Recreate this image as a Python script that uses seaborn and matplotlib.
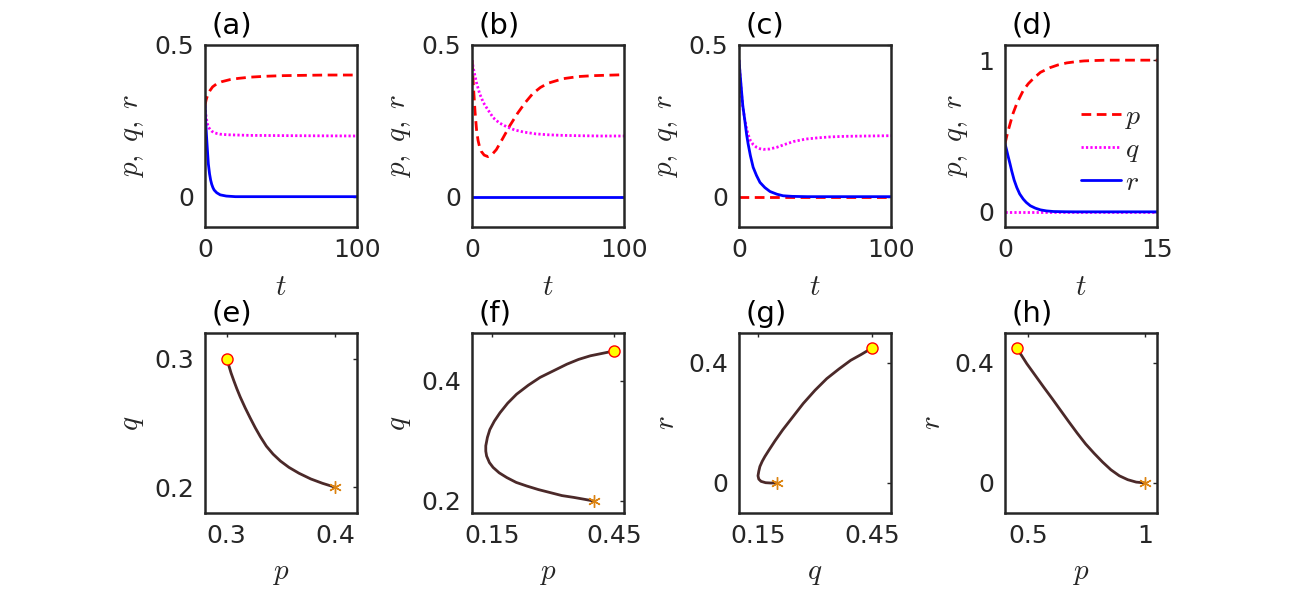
import numpy as np
import pandas as pd
import seaborn as sns
import matplotlib.pyplot as plt
from matplotlib.lines import Line2D

# ---- panel (a) : time series ----
t_a_p = [0, 0.3, 0.7, 1.1, 1.6, 2.2, 3.3, 5, 7.7, 11, 16.5, 22, 29.7, 40, 51.6, 65, 80, 100]
p_a = [0.3, 0.308, 0.318, 0.325, 0.332, 0.339, 0.35, 0.362, 0.372, 0.379, 0.386, 0.39, 0.394, 0.397,
       0.399, 0.4, 0.401, 0.401]
t_a_q = [0, 0.3, 0.7, 1.1, 1.6, 2.2, 3.3, 4.4, 6, 8, 9.9, 15, 30, 60, 100]
q_a = [0.3, 0.285, 0.265, 0.252, 0.24, 0.23, 0.222, 0.216, 0.211, 0.208, 0.206, 0.204, 0.202, 0.201, 0.2]
t_a_r = [0, 0.5, 1, 1.5, 2.2, 3, 3.7, 4.4, 5.2, 6, 7.7, 10, 14, 20, 100]
r_a = [0.3, 0.245, 0.2, 0.16, 0.108, 0.075, 0.055, 0.041, 0.03, 0.022, 0.013, 0.006, 0.002, 0, 0]

# ---- panel (b) ----
t_b_p = [0, 1, 2, 3, 4, 5, 6, 8, 10.5, 13, 16, 20, 25, 30, 35, 40, 45, 50, 60, 70, 80, 100]
p_b = [0.45, 0.36, 0.28, 0.22, 0.185, 0.164, 0.15, 0.137, 0.132, 0.138, 0.155, 0.19, 0.235, 0.275, 0.31,
       0.34, 0.36, 0.374, 0.389, 0.396, 0.399, 0.402]
t_b_q = [0, 1, 3, 5, 7.5, 10, 14, 18, 23, 28, 34, 42, 50, 60, 70, 85, 100]
q_b = [0.45, 0.42, 0.375, 0.34, 0.31, 0.29, 0.26, 0.243, 0.23, 0.22, 0.213, 0.207, 0.204, 0.202, 0.201, 0.2, 0.2]
t_b_r = [0, 100]
r_b = [0, 0]

# ---- panel (c) ----
t_c_p = [0, 100]
p_c = [0, 0]
t_c_q = [0, 0.8, 1.6, 2.5, 3.8, 5, 6, 7.5, 9.3, 11.5, 13.8, 16, 20, 25, 30, 36, 44, 52, 60, 70, 85, 100]
q_c = [0.45, 0.395, 0.34, 0.295, 0.255, 0.225, 0.205, 0.185, 0.172, 0.163, 0.158, 0.156, 0.157, 0.163,
       0.172, 0.182, 0.19, 0.194, 0.197, 0.199, 0.2, 0.201]
t_c_r = [0, 0.8, 1.6, 2.5, 3.8, 5, 6, 7.5, 9.3, 11.5, 13.8, 17, 20.4, 25, 29, 35, 45, 100]
r_c = [0.45, 0.40, 0.352, 0.30, 0.252, 0.205, 0.174, 0.135, 0.097, 0.07, 0.047, 0.03, 0.017, 0.008,
       0.003, 0.001, 0, 0]

# ---- panel (d) ----
t_d_p = [0, 0.25, 0.5, 0.8, 1.16, 1.5, 1.8, 2.3, 2.8, 3.5, 4.46, 5.2, 6.1, 7, 7.8, 9, 10, 15]
p_d = [0.45, 0.52, 0.58, 0.65, 0.713, 0.76, 0.80, 0.845, 0.879, 0.92, 0.951, 0.968, 0.982, 0.99, 0.995,
       0.998, 1.0, 1.0]
t_d_q = [0, 15]
q_d = [0, 0]
t_d_r = [0, 0.15, 0.33, 0.5, 0.66, 0.9, 1.16, 1.45, 1.8, 2.1, 2.5, 3, 3.5, 4.1, 4.8, 6, 7, 15]
r_d = [0.45, 0.41, 0.36, 0.315, 0.27, 0.21, 0.161, 0.118, 0.084, 0.062, 0.04, 0.024, 0.013, 0.006,
       0.002, 0.0005, 0, 0]

# ---- phase portraits (e)-(h) ----
e_p = [0.3, 0.3019, 0.304, 0.3065, 0.3093, 0.3124, 0.317, 0.3217, 0.3263, 0.331, 0.3365, 0.3427, 0.3495,
       0.3573, 0.3666, 0.3774, 0.3882, 0.4]
e_q = [0.3, 0.2948, 0.2889, 0.283, 0.2767, 0.2703, 0.2618, 0.2538, 0.2463, 0.2393, 0.232, 0.2258, 0.2204,
       0.2155, 0.2109, 0.2065, 0.2031, 0.2]

f_p = [0.45, 0.421, 0.392, 0.363, 0.334, 0.301, 0.268, 0.239, 0.21, 0.188, 0.169, 0.155, 0.144, 0.138,
       0.134, 0.134, 0.136, 0.143, 0.152, 0.167, 0.186, 0.209, 0.235, 0.264, 0.293, 0.322, 0.351, 0.376, 0.4]
f_q = [0.45, 0.446, 0.442, 0.436, 0.428, 0.417, 0.406, 0.393, 0.378, 0.363, 0.347, 0.333, 0.319, 0.306,
       0.292, 0.283, 0.275, 0.264, 0.256, 0.247, 0.239, 0.231, 0.225, 0.219, 0.214, 0.209, 0.206, 0.203, 0.2]

g_q = [0.45, 0.421, 0.394, 0.363, 0.331, 0.3, 0.269, 0.242, 0.215, 0.195, 0.179, 0.168, 0.161, 0.155,
       0.152, 0.15, 0.152, 0.158, 0.17, 0.183, 0.2]
g_r = [0.45, 0.428, 0.409, 0.38, 0.348, 0.309, 0.265, 0.221, 0.177, 0.141, 0.11, 0.088, 0.072, 0.055,
       0.039, 0.024, 0.013, 0.0055, 0.001, 0, 0]

h_p = [0.45, 0.471, 0.493, 0.529, 0.565, 0.601, 0.637, 0.673, 0.709, 0.745, 0.781, 0.817, 0.853, 0.889,
       0.925, 0.961, 1.0]
h_r = [0.45, 0.425, 0.398, 0.359, 0.32, 0.282, 0.243, 0.204, 0.166, 0.13, 0.099, 0.07, 0.044, 0.024,
       0.011, 0.003, 0]

sns.set_theme(style="white")
plt.rcParams["font.family"] = ["DejaVu Sans"]
plt.rcParams["mathtext.fontset"] = "cm"

DARK = "#262626"
RED, MAG, BLUE = "#ff0000", "#ff00ff", "#0000ff"
BROWN, ORANGE = "#4b2929", "#dc8412"
DASH = (0, (3.5, 2))
DOT = (0, (0.8, 0.8))

fig = plt.figure(figsize=(12.94, 6.06), dpi=100)
lefts = [205, 472, 739, 1005]
W, H = 1294, 606


def make_ax(col, top, bottom):
    return fig.add_axes([lefts[col] / W, (H - bottom) / H, 152 / W, (bottom - top) / H])


def style_ax(ax, xlim, ylim, xticks, yticks, xlabel, ylabel, tag):
    ax.set_xlim(xlim)
    ax.set_ylim(ylim)
    ax.set_xticks(xticks)
    ax.set_yticks(yticks)
    ax.set_xticklabels([f"{v:g}" for v in xticks])
    ax.set_yticklabels([f"{v:g}" for v in yticks])
    ax.tick_params(direction="in", top=True, right=True, length=3, width=1, color=DARK,
                   labelsize=18, labelcolor=DARK, pad=8)
    for s in ax.spines.values():
        s.set_color(DARK)
        s.set_linewidth(1.8)
    ax.set_xlabel(xlabel, fontsize=21, color=DARK, labelpad=8)
    ax.set_ylabel(ylabel, fontsize=21, color=DARK, labelpad=6)
    ax.text(0.04, 1.03, tag, transform=ax.transAxes, fontsize=21, va="bottom", ha="left", color="black")


def time_panel(ax, tp, p, tq, q, tr, r):
    sns.lineplot(x=tp, y=p, ax=ax, color=RED, linestyle=DASH, linewidth=2, sort=False, estimator=None)
    sns.lineplot(x=tq, y=q, ax=ax, color=MAG, linestyle=DOT, linewidth=2, sort=False, estimator=None)
    sns.lineplot(x=tr, y=r, ax=ax, color=BLUE, linewidth=2, sort=False, estimator=None)


def phase_panel(ax, x, y):
    sns.lineplot(x=x, y=y, ax=ax, color=BROWN, linewidth=2, sort=False, estimator=None)
    ax.plot(x[-1], y[-1], marker=(6, 2, 0), markersize=9, markeredgewidth=1, color=ORANGE, zorder=5)
    ax.plot(x[0], y[0], marker="o", markersize=8, markerfacecolor="yellow", markeredgecolor="red",
            markeredgewidth=1, zorder=6)


ylab = r"$p,\;q,\;r$"

ax = make_ax(0, 45, 227)
time_panel(ax, t_a_p, p_a, t_a_q, q_a, t_a_r, r_a)
style_ax(ax, (0, 100), (-0.1, 0.5), [0, 100], [0, 0.5], r"$t$", ylab, "(a)")

ax = make_ax(1, 45, 227)
time_panel(ax, t_b_p, p_b, t_b_q, q_b, t_b_r, r_b)
style_ax(ax, (0, 100), (-0.1, 0.5), [0, 100], [0, 0.5], r"$t$", ylab, "(b)")

ax = make_ax(2, 45, 227)
time_panel(ax, t_c_p, p_c, t_c_q, q_c, t_c_r, r_c)
style_ax(ax, (0, 100), (-0.1, 0.5), [0, 100], [0, 0.5], r"$t$", ylab, "(c)")

ax = make_ax(3, 45, 227)
time_panel(ax, t_d_p, p_d, t_d_q, q_d, t_d_r, r_d)
style_ax(ax, (0, 15), (-0.1, 1.1), [0, 15], [0, 1], r"$t$", ylab, "(d)")
handles = [Line2D([], [], color=RED, linestyle=DASH, linewidth=2),
           Line2D([], [], color=MAG, linestyle=DOT, linewidth=2),
           Line2D([], [], color=BLUE, linewidth=2)]
ax.legend(handles, [r"$p$", r"$q$", r"$r$"], frameon=False, loc="center left",
          bbox_to_anchor=(0.5, 0.43), fontsize=20, handlelength=1.45, handletextpad=0.15,
          labelspacing=0.15, borderpad=0, borderaxespad=0)

ax = make_ax(0, 333, 513)
phase_panel(ax, e_p, e_q)
style_ax(ax, (0.28, 0.42), (0.18, 0.32), [0.3, 0.4], [0.2, 0.3], r"$p$", r"$q$", "(e)")

ax = make_ax(1, 333, 513)
phase_panel(ax, f_p, f_q)
style_ax(ax, (0.1, 0.475), (0.18, 0.48), [0.15, 0.45], [0.2, 0.4], r"$p$", r"$q$", "(f)")

ax = make_ax(2, 333, 513)
phase_panel(ax, g_q, g_r)
style_ax(ax, (0.1, 0.5), (-0.1, 0.5), [0.15, 0.45], [0, 0.4], r"$q$", r"$r$", "(g)")

ax = make_ax(3, 333, 513)
phase_panel(ax, h_p, h_r)
style_ax(ax, (0.4, 1.05), (-0.1, 0.5), [0.5, 1], [0, 0.4], r"$p$", r"$r$", "(h)")

fig.savefig("out.png", dpi=100, facecolor="white")
